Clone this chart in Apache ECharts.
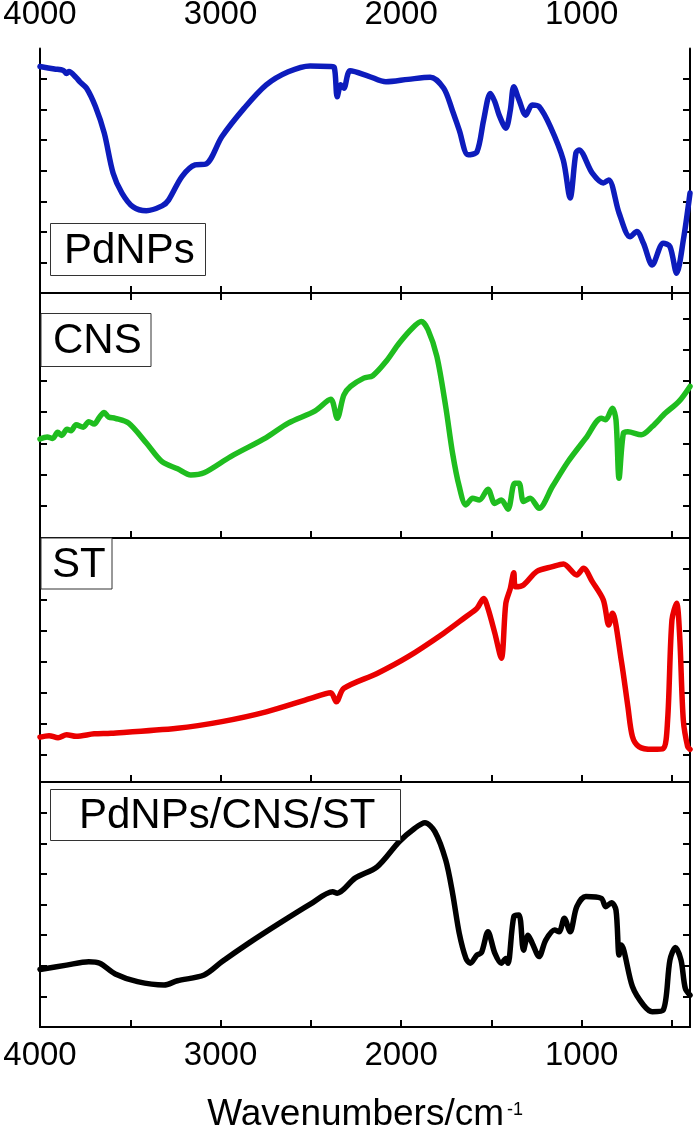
<!DOCTYPE html>
<html>
<head>
<meta charset="utf-8">
<script src="https://cdn.jsdelivr.net/npm/echarts@6/dist/echarts.min.js"></script>
<style>
html,body{margin:0;padding:0;background:#fff;}
#chart{width:693px;height:1137px;}
</style>
</head>
<body>
<div id="chart"></div>
<script>
// ---- data: [wavenumber (cm^-1), transmittance (arbitrary units, tick spacing = 1)] ----
const pdnps = [[4000,7.41],[3920,7.33],[3870,7.28],[3853,7.18],[3840,7.25],[3800,7.05],[3779,6.91],[3742,6.70],[3693,6.10],[3644,5.23],[3595,3.92],[3546,3.27],[3485,2.82],[3411,2.69],[3324,2.85],[3288,3.04],[3214,3.81],[3141,4.19],[3080,4.22],[2993,5.11],[2870,6.04],[2747,6.81],[2625,7.24],[2504,7.43],[2393,7.41],[2370,7.38],[2354,6.42],[2334,6.81],[2317,6.70],[2282,7.27],[2182,7.10],[2084,6.91],[1961,6.99],[1839,7.06],[1764,6.70],[1717,5.99],[1678,5.33],[1629,4.52],[1580,4.62],[1543,5.66],[1506,6.53],[1481,6.26],[1457,5.82],[1420,5.39],[1395,5.99],[1376,6.75],[1347,6.32],[1310,5.82],[1274,6.15],[1236,6.10],[1174,5.45],[1102,4.35],[1064,3.11],[1032,4.58],[1015,4.68],[941,3.92],[880,3.60],[850,3.70],[793,2.62],[732,1.84],[695,2.01],[658,1.63],[609,0.92],[548,1.63],[511,1.52],[474,0.65],[437,1.73],[400,3.27]];
const cns = [[4000,3.23],[3960,3.30],[3930,3.25],[3902,3.45],[3880,3.35],[3850,3.55],[3828,3.50],[3800,3.70],[3760,3.62],[3730,3.80],[3700,3.72],[3670,3.95],[3645,4.10],[3620,3.95],[3583,3.91],[3509,3.75],[3411,3.10],[3324,2.49],[3238,2.26],[3165,2.06],[3091,2.13],[2944,2.66],[2747,3.28],[2625,3.75],[2476,4.15],[2390,4.53],[2354,3.91],[2317,4.67],[2280,4.95],[2207,5.22],[2157,5.30],[2084,5.76],[2011,6.36],[1937,6.86],[1888,7.07],[1851,6.80],[1802,5.93],[1753,4.29],[1715,2.77],[1678,1.68],[1641,1.08],[1604,1.30],[1567,1.24],[1519,1.59],[1481,1.13],[1445,1.24],[1408,0.94],[1371,1.79],[1347,1.79],[1322,1.19],[1285,1.30],[1236,0.97],[1162,1.68],[1076,2.49],[977,3.26],[891,3.91],[867,3.86],[830,4.24],[810,3.86],[793,1.95],[769,3.42],[744,3.47],[670,3.37],[609,3.64],[536,4.08],[461,4.46],[400,4.95]];
const st = [[4000,1.47],[3950,1.52],[3900,1.45],[3853,1.55],[3800,1.50],[3700,1.58],[3607,1.60],[3239,1.76],[2993,1.98],[2747,2.30],[2501,2.74],[2390,2.93],[2359,2.63],[2317,3.07],[2133,3.56],[1961,4.11],[1764,4.88],[1641,5.42],[1580,5.69],[1543,6.02],[1519,5.69],[1481,4.88],[1445,4.06],[1420,5.86],[1395,6.35],[1376,6.86],[1366,6.40],[1322,6.46],[1249,6.90],[1162,7.06],[1101,7.15],[1027,6.79],[990,7.01],[941,6.57],[880,5.97],[850,5.15],[830,5.53],[781,4.00],[744,2.47],[719,1.49],[683,1.16],[609,1.07],[548,1.10],[524,2.03],[500,5.31],[474,5.86],[457,4.76],[437,2.03],[413,1.16],[400,1.07]];
const composite = [[4000,1.88],[3853,2.02],[3730,2.13],[3669,2.08],[3583,1.73],[3460,1.48],[3313,1.37],[3239,1.51],[3091,1.70],[2993,2.13],[2846,2.73],[2673,3.39],[2501,4.02],[2379,4.42],[2354,4.37],[2255,4.86],[2133,5.23],[2011,6.05],[1924,6.49],[1868,6.67],[1813,6.38],[1753,5.45],[1715,4.37],[1678,3.06],[1641,2.24],[1617,2.08],[1580,2.35],[1555,2.43],[1519,3.11],[1481,2.41],[1445,2.08],[1420,2.24],[1408,2.08],[1376,3.60],[1347,3.66],[1322,2.51],[1297,3.00],[1273,2.73],[1236,2.30],[1199,2.84],[1150,3.17],[1125,3.11],[1096,3.55],[1064,3.11],[1027,3.93],[977,4.26],[891,4.20],[867,3.93],[835,4.06],[810,3.82],[793,2.35],[781,2.68],[719,1.32],[658,0.72],[609,0.50],[548,0.56],[511,2.19],[481,2.60],[450,2.19],[426,1.26],[400,1.04]];

const seriesNames = ['PdNPs', 'CNS', 'ST', 'PdNPs/CNS/ST'];
const seriesData = [pdnps, cns, st, composite];
const seriesColors = ['#0d1cbc', '#1fbd1f', '#ea0000', '#000000'];

const xTickValues = [500, 1000, 1500, 2000, 2500, 3000, 3500, 4000];
const xLabelValues = [1000, 2000, 3000, 4000];
const yTickValues = [
  [1, 2, 3, 4, 5, 6, 7],
  [1.05, 2.07, 3.09, 4.11, 5.13, 6.15, 7.17],
  [0.89, 1.9, 2.92, 3.93, 4.95, 5.97, 6.98],
  [1, 2, 3, 4, 5, 6, 7]
];

// ---- layout ----
const gridTops = [48.5, 293, 538, 782];
const gridHeights = [244.5, 245, 244, 245];
const FONT = '"Liberation Sans", Arial, sans-serif';

const chart = echarts.init(document.getElementById('chart'), null, {renderer: 'canvas'});

const grids = [], xAxes = [], yAxes = [], series = [];
const axisLine = {show: true, lineStyle: {color: '#000', width: 2}};
const fmt = v => String(v);
for (let i = 0; i < 4; i++) {
  grids.push({left: 40, right: 3, top: gridTops[i], height: gridHeights[i], containLabel: false, outerBoundsMode: 'none'});
  xAxes.push({
    type: 'value', gridIndex: i, position: 'bottom', min: 400, max: 4000, inverse: true,
    axisLine: axisLine,
    axisTick: {show: true, inside: true, length: 7, lineStyle: {color: '#000', width: 2}, customValues: xTickValues},
    axisLabel: {show: i === 3, customValues: xLabelValues, formatter: fmt, fontSize: 33, color: '#000', fontFamily: FONT, margin: 12, hideOverlap: false},
    splitLine: {show: false}
  });
  xAxes.push({
    type: 'value', gridIndex: i, position: 'top', min: 400, max: 4000, inverse: true,
    axisLine: axisLine,
    axisTick: {show: i === 0, inside: true, length: 7, lineStyle: {color: '#000', width: 2}, customValues: xTickValues},
    axisLabel: {show: i === 0, customValues: xLabelValues, formatter: fmt, fontSize: 33, color: '#000', fontFamily: FONT, margin: 17, hideOverlap: false},
    splitLine: {show: false}
  });
  for (const pos of ['left', 'right']) {
    yAxes.push({
      type: 'value', gridIndex: i, position: pos, min: 0, max: 8,
      axisLine: axisLine,
      axisTick: {show: true, inside: true, length: 7, lineStyle: {color: '#000', width: 2}, customValues: yTickValues[i]},
      axisLabel: {show: false},
      splitLine: {show: false}
    });
  }
  series.push({
    type: 'line', name: seriesNames[i], xAxisIndex: i * 2, yAxisIndex: i * 2,
    data: seriesData[i], showSymbol: false, symbol: 'none', smooth: 0.3,
    lineStyle: {color: seriesColors[i], width: 5.5, join: 'round', cap: 'round'},
    clip: true, animation: false, z: 2
  });
}

function labelBox(text, x, y, w, h, tx, ty) {
  return {
    type: 'group', z: 10,
    children: [
      {type: 'rect', shape: {x: x, y: y, width: w, height: h}, style: {fill: '#fff', stroke: '#333', lineWidth: 1}, z: 10},
      {type: 'text', z: 11, style: {text: text, x: tx, y: ty, font: '42px ' + FONT, fill: '#000', textAlign: 'left', verticalAlign: 'middle', textVerticalAlign: 'middle'}}
    ]
  };
}

const graphics = [
  labelBox(seriesNames[0], 50.5, 223.5, 155, 52, 64, 251),
  labelBox(seriesNames[1], 41, 313.5, 110, 53, 53, 341),
  labelBox(seriesNames[2], 41, 538, 71, 51, 52, 565.5),
  labelBox(seriesNames[3], 50.5, 789.5, 350, 51, 79, 816),
  {type: 'text', z: 11, style: {text: 'Wavenumbers/cm', x: 504, y: 1115, font: '37px ' + FONT, fill: '#000', textAlign: 'right', verticalAlign: 'middle', textVerticalAlign: 'middle'}},
  {type: 'text', z: 11, style: {text: '-1', x: 507, y: 1110, font: '18px ' + FONT, fill: '#000', textAlign: 'left', verticalAlign: 'middle', textVerticalAlign: 'middle'}}
];

chart.setOption({
  animation: false,
  backgroundColor: '#fff',
  grid: grids,
  xAxis: xAxes,
  yAxis: yAxes,
  series: series,
  graphic: graphics
});
</script>
</body>
</html>
